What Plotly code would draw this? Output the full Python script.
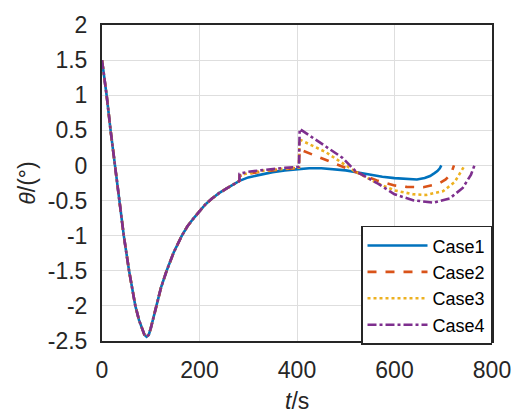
import plotly.graph_objects as go

# Shared trajectory before the cases diverge (t in s, theta in deg)
t_common = [0, 5, 9.5, 17.6, 26.4, 36.5, 44.7, 55.5, 62, 68.4, 75.8, 82, 87,
            91.5, 96, 100, 105, 111, 121, 132.6, 147, 163.8, 175, 187, 200,
            212, 225, 240, 255, 270, 282]
theta_common = [1.50, 1.24, 1.00, 0.50, 0.00, -0.50, -1.00, -1.50, -1.77, -2.00,
                -2.20, -2.33, -2.41, -2.44, -2.41, -2.32, -2.18, -2.00, -1.74,
                -1.50, -1.24, -1.00, -0.87, -0.76, -0.65, -0.555, -0.475,
                -0.395, -0.33, -0.27, -0.22]

# Case-specific continuations
t_case1 = [300, 325, 350, 375, 400, 425, 450, 475, 500, 525, 550, 575, 600,
           625, 646, 662, 673, 682, 688, 693, 696]
theta_case1 = [-0.17, -0.13, -0.095, -0.07, -0.05, -0.04, -0.04, -0.05, -0.07,
               -0.10, -0.135, -0.16, -0.18, -0.195, -0.20, -0.18, -0.15, -0.11,
               -0.08, -0.04, 0.0]

t_case2 = [282, 300, 325, 350, 375, 404, 405, 439, 480, 520, 545, 564, 600,
           625, 659, 690, 705, 716, 722]
theta_case2 = [-0.15, -0.12, -0.09, -0.065, -0.05, -0.035, 0.23, 0.135, 0.02,
               -0.09, -0.16, -0.215, -0.285, -0.305, -0.31, -0.26, -0.20, -0.12,
               0.0]

t_case3 = [282, 300, 325, 350, 375, 404, 405, 459, 500, 520, 545, 564, 600,
           638, 665, 700, 723.5, 737, 744]
theta_case3 = [-0.14, -0.11, -0.08, -0.06, -0.045, -0.03, 0.37, 0.19, 0.0,
               -0.09, -0.18, -0.25, -0.355, -0.41, -0.42, -0.365, -0.235, -0.09,
               0.0]

t_case4 = [282, 300, 325, 350, 375, 404, 405.5, 459, 493, 520, 545, 564, 600,
           638, 679.5, 713, 740, 757, 764]
theta_case4 = [-0.12, -0.09, -0.07, -0.05, -0.035, -0.02, 0.52, 0.27, 0.11,
               -0.08, -0.18, -0.25, -0.41, -0.495, -0.53, -0.47, -0.32, -0.13,
               0.0]

case_names = ["Case1", "Case2", "Case3", "Case4"]
case_t = [t_case1, t_case2, t_case3, t_case4]
case_theta = [theta_case1, theta_case2, theta_case3, theta_case4]
colors = ["#0072BD", "#D95319", "#EDB120", "#7E2F8E"]
dashes = ["solid", "dash", "dot", "dashdot"]

x_ticks = [0, 200, 400, 600, 800]
y_ticks = [2, 1.5, 1, 0.5, 0, -0.5, -1, -1.5, -2, -2.5]
y_tick_text = ["2", "1.5", "1", "0.5", "0", "-0.5", "-1", "-1.5", "-2", "-2.5"]

FONT = "Liberation Sans, Arial, sans-serif"
AX = "#262626"

fig = go.Figure()
for name, tt, yy, c, d in zip(case_names, case_t, case_theta, colors, dashes):
    fig.add_trace(go.Scatter(
        x=t_common + tt, y=theta_common + yy, mode="lines", name=name,
        line=dict(color=c, width=2.6, dash=d),
    ))

fig.update_layout(
    width=523, height=416, autosize=False,
    margin=dict(l=102, r=27, t=16, b=75),
    paper_bgcolor="white", plot_bgcolor="white",
    font=dict(family=FONT, color="#262626", size=23),
    showlegend=True,
    legend=dict(
        x=1, y=-0.012, xanchor="right", yanchor="bottom",
        bgcolor="white", bordercolor=AX, borderwidth=1.5,
        font=dict(size=18, family=FONT, color="black"),
        itemwidth=60, tracegroupgap=0,
    ),
    annotations=[dict(
        text="<i>t</i>/s", xref="paper", yref="paper", x=0.5, y=-0.19,
        xanchor="center", yanchor="middle", showarrow=False,
        font=dict(size=23, family=FONT, color="#262626"),
    )],
)
fig.update_xaxes(
    range=[0, 800], tickvals=x_ticks, ticktext=[str(v) for v in x_ticks],
    showgrid=True, gridcolor="#dedede", gridwidth=1.2,
    showline=True, linecolor=AX, linewidth=2, mirror=True,
    ticks="", ticklabelstandoff=7, zeroline=False,
    tickfont=dict(size=23, family=FONT, color="#262626"),
)
fig.update_yaxes(
    range=[-2.5, 2], tickvals=y_ticks, ticktext=y_tick_text,
    showgrid=True, gridcolor="#dedede", gridwidth=1.2,
    showline=True, linecolor=AX, linewidth=2, mirror=True,
    ticks="", ticklabelstandoff=8, zeroline=False,
    tickfont=dict(size=23, family=FONT, color="#262626"),
    title=dict(text="<i>θ</i>/(°)", standoff=6,
               font=dict(size=23, family=FONT, color="#262626")),
)

fig.write_html("out.html")
